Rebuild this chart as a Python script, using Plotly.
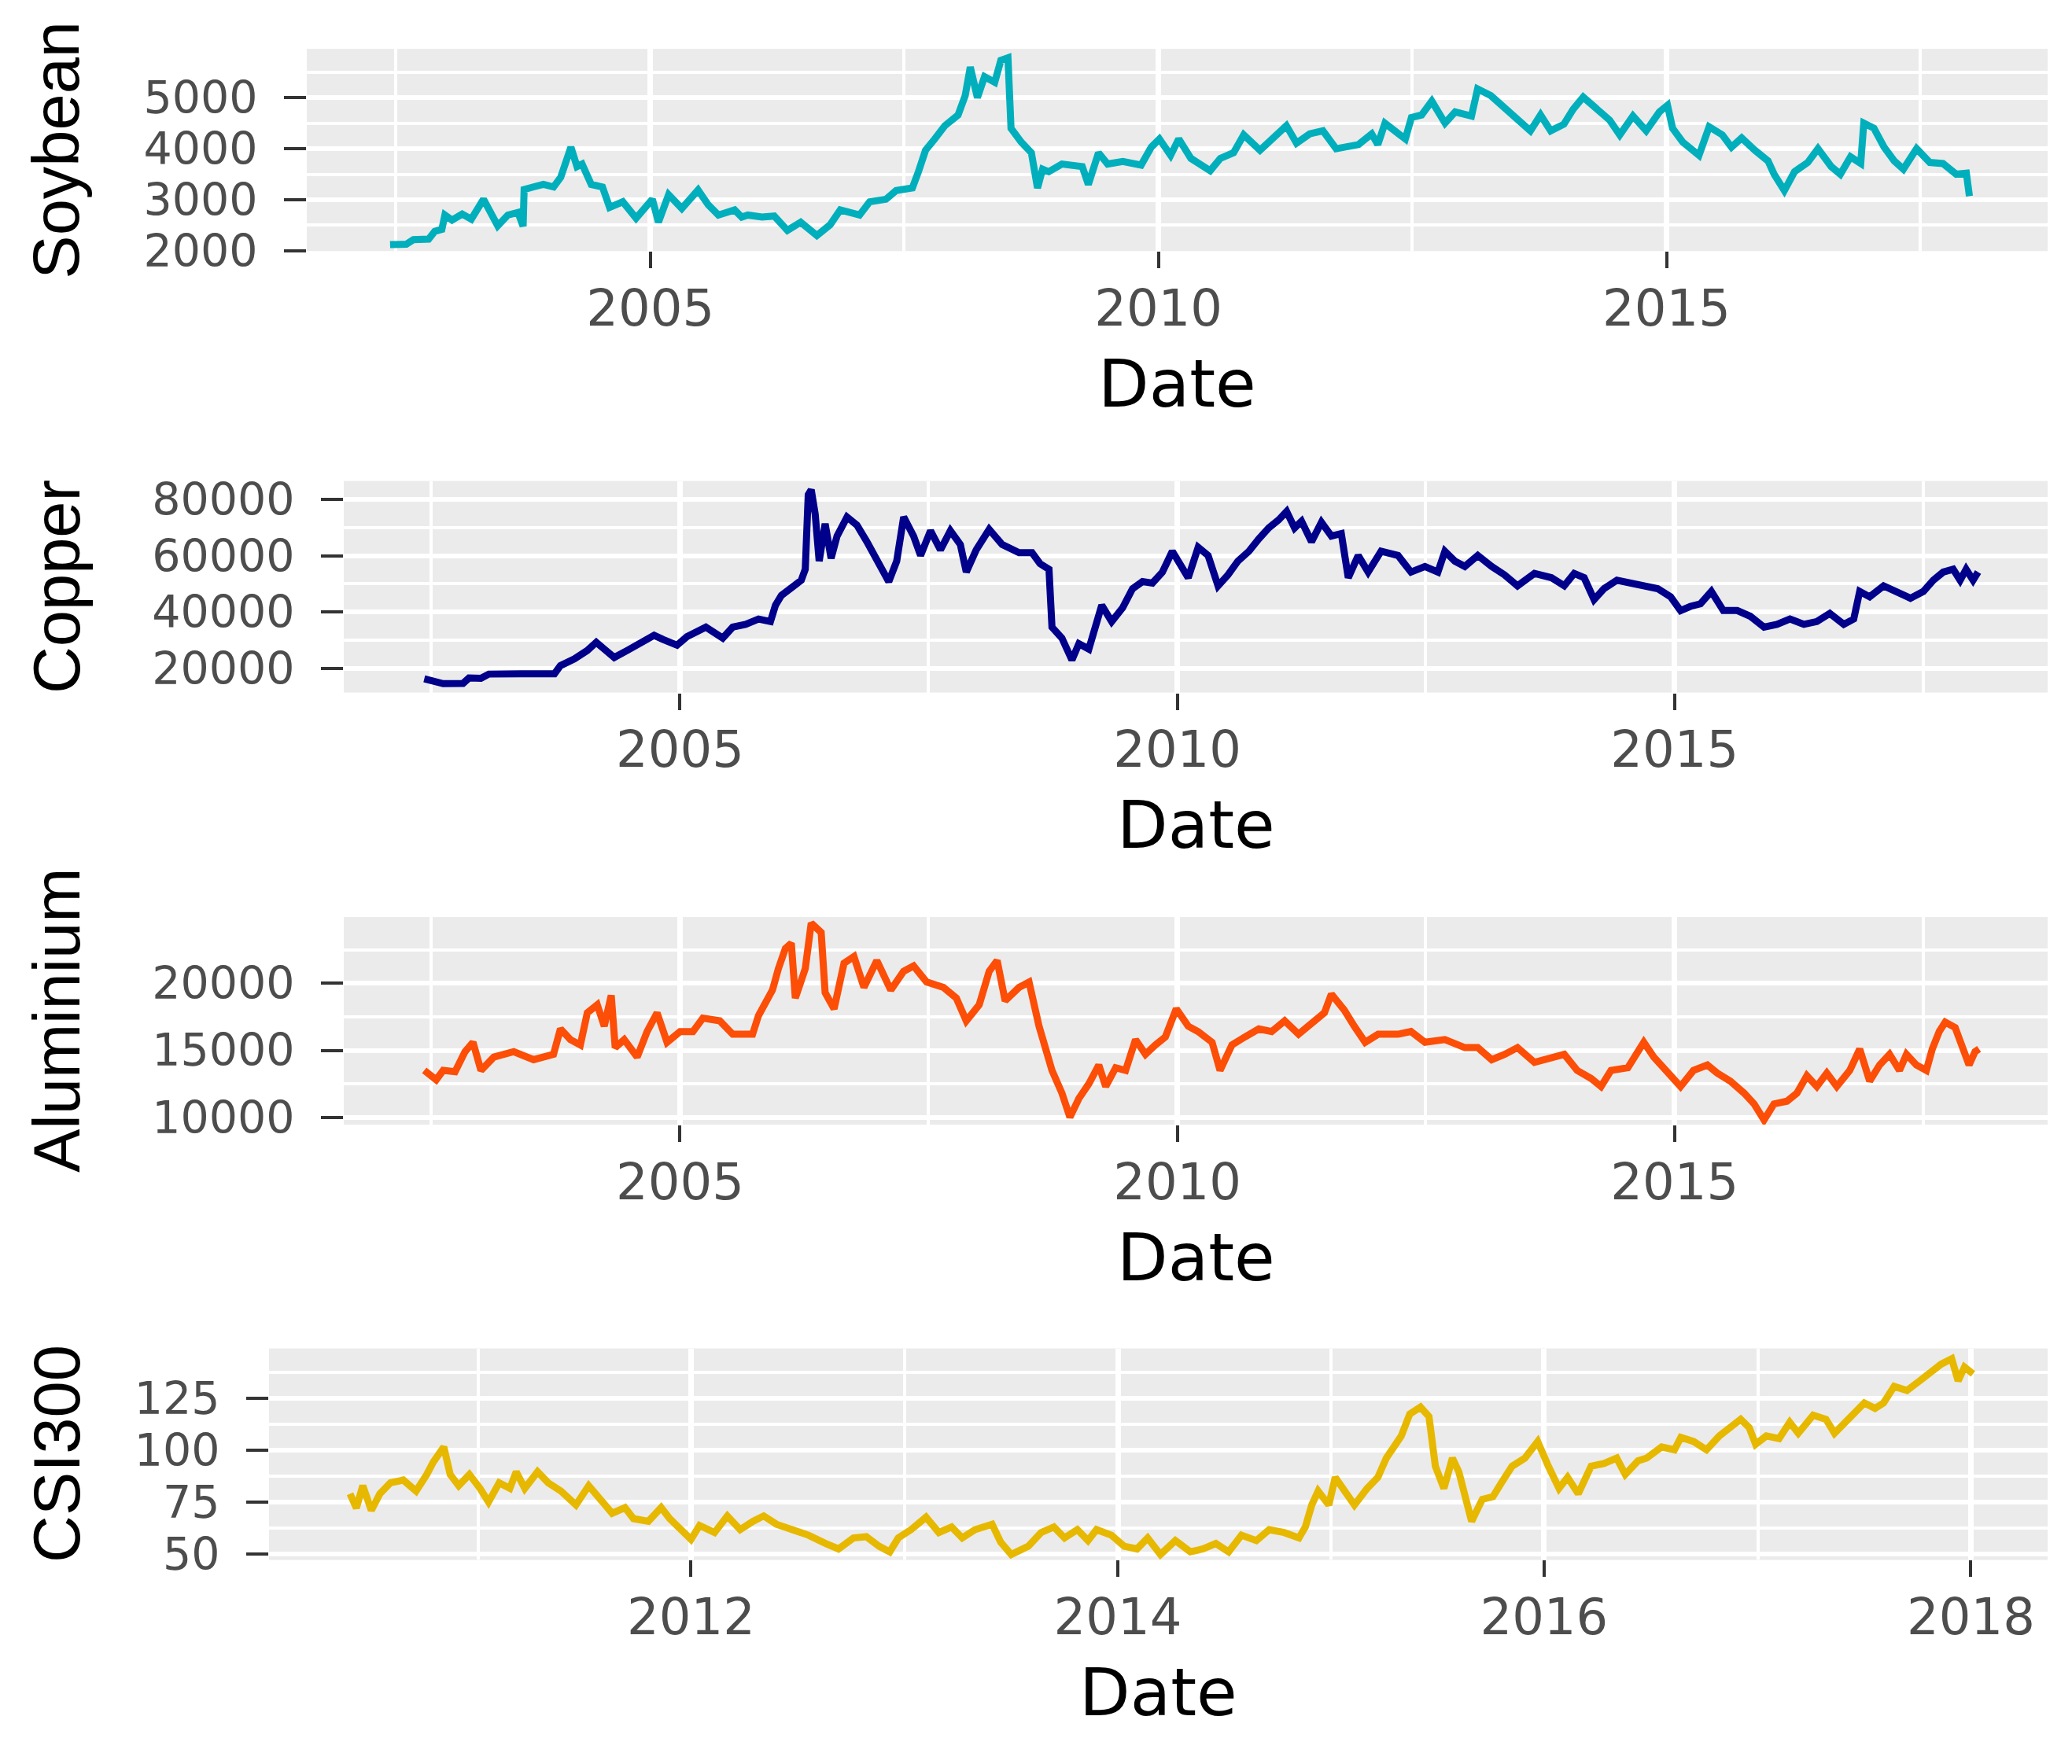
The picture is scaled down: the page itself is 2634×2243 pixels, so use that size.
from datetime import datetime, timedelta

import plotly.graph_objs as go

# decimal year / price pairs
soy_t = [
    2002.44, 2002.60, 2002.67, 2002.82, 2002.88, 2002.95, 2002.98, 2003.05, 2003.15, 2003.24,
    2003.36, 2003.50, 2003.60, 2003.70, 2003.75, 2003.76, 2003.85, 2003.95, 2004.05, 2004.12,
    2004.22, 2004.28, 2004.33, 2004.42, 2004.53, 2004.60, 2004.73, 2004.86, 2005.02, 2005.08,
    2005.18, 2005.31, 2005.47, 2005.57, 2005.67, 2005.83, 2005.90, 2005.96, 2006.10, 2006.22,
    2006.35, 2006.48, 2006.64, 2006.77, 2006.87, 2007.06, 2007.16, 2007.32, 2007.42, 2007.58,
    2007.64, 2007.71, 2007.80, 2007.90, 2008.03, 2008.10, 2008.15, 2008.22, 2008.29, 2008.39,
    2008.45, 2008.52, 2008.55, 2008.65, 2008.75, 2008.81, 2008.86, 2008.92, 2009.05, 2009.25,
    2009.31, 2009.41, 2009.50, 2009.65, 2009.83, 2009.93, 2010.01, 2010.12, 2010.20, 2010.32,
    2010.51, 2010.61, 2010.74, 2010.84, 2011.00, 2011.19, 2011.26, 2011.36, 2011.49, 2011.62,
    2011.75, 2011.97, 2012.10, 2012.16, 2012.23, 2012.43, 2012.49, 2012.59, 2012.69, 2012.82,
    2012.92, 2013.08, 2013.14, 2013.27, 2013.40, 2013.53, 2013.66, 2013.76, 2013.86, 2013.99,
    2014.08, 2014.18, 2014.31, 2014.44, 2014.54, 2014.67, 2014.80, 2014.93, 2015.01, 2015.06,
    2015.16, 2015.32, 2015.42, 2015.55, 2015.64, 2015.74, 2015.87, 2016.00, 2016.06, 2016.16,
    2016.26, 2016.39, 2016.49, 2016.62, 2016.71, 2016.81, 2016.91, 2016.94, 2017.04, 2017.14,
    2017.24, 2017.33, 2017.46, 2017.59, 2017.72, 2017.85, 2017.95, 2017.98,
]
soy_v = [
    2120, 2130, 2220, 2230, 2380, 2420, 2700, 2600, 2720, 2620,
    3010, 2490, 2700, 2750, 2480, 3200, 3250, 3300, 3250, 3440,
    4030, 3650, 3700, 3300, 3250, 2850, 2960, 2640, 3010, 2560,
    3100, 2830, 3190, 2900, 2700, 2800, 2660, 2700, 2660, 2680,
    2400, 2560, 2300, 2510, 2800, 2700, 2960, 3010, 3180, 3230,
    3550, 3970, 4190, 4450, 4660, 5040, 5600, 5000, 5410, 5300,
    5730, 5780, 4400, 4130, 3920, 3230, 3600, 3550, 3700, 3650,
    3300, 3920, 3700, 3750, 3680, 4030, 4190, 3870, 4190, 3810,
    3570, 3810, 3920, 4270, 3970, 4350, 4450, 4110, 4290, 4350,
    4000, 4080, 4290, 4080, 4500, 4190, 4610, 4660, 4930, 4500,
    4720, 4640, 5170, 5040, 4820, 4610, 4350, 4660, 4350, 4480,
    4770, 5010, 4770, 4560, 4270, 4640, 4350, 4720, 4850, 4400,
    4130, 3870, 4430, 4270, 4030, 4210, 3970, 3760, 3500, 3180,
    3550, 3730, 4000, 3650, 3500, 3840, 3710, 4500, 4400, 4030,
    3760, 3600, 4000, 3730, 3710, 3500, 3520, 3070,
]

copper_t = [
    2002.43, 2002.55, 2002.62, 2002.82, 2002.88, 2003.00, 2003.08, 2003.40, 2003.74, 2003.80,
    2003.94, 2004.07, 2004.16, 2004.24, 2004.34, 2004.47, 2004.60, 2004.74, 2004.83, 2004.97,
    2005.07, 2005.26, 2005.43, 2005.53, 2005.66, 2005.79, 2005.91, 2005.96, 2006.02, 2006.12,
    2006.22, 2006.26, 2006.29, 2006.32, 2006.36, 2006.40, 2006.46, 2006.52, 2006.58, 2006.68,
    2006.78, 2006.88, 2006.98, 2007.10, 2007.18, 2007.25, 2007.35, 2007.42, 2007.52, 2007.62,
    2007.72, 2007.82, 2007.88, 2007.98, 2008.11, 2008.24, 2008.41, 2008.54, 2008.62, 2008.71,
    2008.74, 2008.84, 2008.94, 2009.01, 2009.11, 2009.18, 2009.24, 2009.34, 2009.45, 2009.55,
    2009.65, 2009.75, 2009.85, 2009.95, 2010.05, 2010.11, 2010.21, 2010.31, 2010.41, 2010.51,
    2010.61, 2010.72, 2010.82, 2010.92, 2011.02, 2011.10, 2011.18, 2011.25, 2011.35, 2011.45,
    2011.55, 2011.65, 2011.72, 2011.82, 2011.92, 2012.05, 2012.22, 2012.35, 2012.49, 2012.62,
    2012.69, 2012.79, 2012.89, 2013.02, 2013.16, 2013.29, 2013.42, 2013.59, 2013.76, 2013.89,
    2013.99, 2014.09, 2014.19, 2014.29, 2014.42, 2014.56, 2014.69, 2014.83, 2014.96, 2015.06,
    2015.16, 2015.26, 2015.37, 2015.49, 2015.63, 2015.76, 2015.90, 2016.03, 2016.16, 2016.30,
    2016.43, 2016.56, 2016.70, 2016.80, 2016.86, 2016.96, 2017.10, 2017.23, 2017.37, 2017.50,
    2017.60, 2017.70, 2017.80, 2017.87, 2017.93, 2018.00, 2018.05,
]
copper_v = [
    16200, 15200, 14500, 14600, 16500, 16400, 17900, 18000, 18000, 20900,
    23300, 26300, 29200, 26800, 23800, 26300, 28700, 31700, 30200, 28200,
    31200, 34600, 30700, 34600, 35600, 37500, 36600, 42400, 45900, 48300,
    51300, 55200, 81700, 83500, 74800, 58100, 71400, 59100, 67000, 73800,
    70900, 65000, 58100, 50800, 58100, 73800, 67000, 60100, 68900, 62100,
    68900, 64000, 54200, 62100, 69400, 64000, 61100, 61100, 57200, 55200,
    34600, 30700, 22900, 28700, 26800, 34600, 42400, 36600, 41500, 48300,
    50800, 50300, 54200, 61600, 55200, 52200, 63000, 60100, 49300, 53200,
    58100, 61600, 66000, 69900, 72800, 75800, 69900, 72300, 65000, 71900,
    67000, 67900, 52200, 60100, 54200, 61600, 60100, 54200, 56200, 54200,
    61600, 58100, 56200, 60100, 56200, 53200, 49300, 53700, 52200, 49300,
    53700, 52200, 44400, 48300, 51300, 50300, 48800, 48300, 45400, 40500,
    42000, 42900, 47300, 40500, 40500, 38500, 34600, 35600, 37500, 35600,
    36600, 39500, 35600, 37500, 47300, 45400, 49300, 47300, 44900, 47300,
    51300, 54200, 55200, 51300, 55200, 51300, 54200,
]

alu_t = [
    2002.43, 2002.55, 2002.62, 2002.74, 2002.84, 2002.92, 2003.00, 2003.13, 2003.33, 2003.53,
    2003.73, 2003.80, 2003.90, 2004.00, 2004.07, 2004.17, 2004.24, 2004.31, 2004.35, 2004.44,
    2004.57, 2004.67, 2004.77, 2004.87, 2005.00, 2005.13, 2005.23, 2005.40, 2005.53, 2005.73,
    2005.79, 2005.86, 2005.93, 2005.99, 2006.06, 2006.12, 2006.16, 2006.26, 2006.32, 2006.42,
    2006.46, 2006.55, 2006.65, 2006.75, 2006.85, 2006.98, 2007.12, 2007.25, 2007.35, 2007.48,
    2007.65, 2007.78, 2007.88, 2008.01, 2008.11, 2008.19, 2008.27, 2008.41, 2008.51, 2008.61,
    2008.68, 2008.74, 2008.84, 2008.92, 2009.01, 2009.11, 2009.21, 2009.28, 2009.38, 2009.48,
    2009.58, 2009.68, 2009.78, 2009.88, 2009.99, 2010.11, 2010.21, 2010.35, 2010.43, 2010.55,
    2010.68, 2010.82, 2010.95, 2011.08, 2011.22, 2011.35, 2011.48, 2011.55, 2011.68, 2011.78,
    2011.89, 2012.02, 2012.22, 2012.35, 2012.49, 2012.69, 2012.89, 2013.02, 2013.16, 2013.29,
    2013.42, 2013.59, 2013.76, 2013.89, 2014.02, 2014.16, 2014.26, 2014.36, 2014.53, 2014.63,
    2014.69, 2014.79, 2014.89, 2014.99, 2015.06, 2015.19, 2015.33, 2015.43, 2015.56, 2015.70,
    2015.80, 2015.90, 2016.00, 2016.13, 2016.23, 2016.33, 2016.43, 2016.53, 2016.63, 2016.76,
    2016.86, 2016.96, 2017.06, 2017.16, 2017.26, 2017.33, 2017.43, 2017.53, 2017.59, 2017.66,
    2017.72, 2017.82, 2017.89, 2017.96, 2018.02, 2018.06,
]
alu_v = [
    13500, 12800, 13500, 13400, 14900, 15600, 13500, 14500, 14900, 14300,
    14700, 16600, 15800, 15400, 17800, 18400, 16800, 19100, 15200, 15800,
    14500, 16400, 17800, 15600, 16400, 16400, 17400, 17200, 16200, 16200,
    17600, 18700, 19500, 21100, 22600, 23000, 18900, 21100, 24500, 23800,
    19300, 18100, 21500, 22000, 19700, 21700, 19500, 20900, 21300, 20100,
    19700, 18900, 17200, 18400, 20900, 21700, 18700, 19700, 20100, 16800,
    15100, 13500, 11800, 10000, 11400, 12500, 13900, 12300, 13700, 13500,
    15800, 14700, 15400, 16000, 18100, 16800, 16400, 15600, 13500, 15400,
    16000, 16600, 16400, 17200, 16200, 17000, 17800, 19200, 18000, 16800,
    15600, 16200, 16200, 16400, 15600, 15800, 15200, 15200, 14300, 14700,
    15200, 14100, 14500, 14700, 13500, 12900, 12300, 13500, 13700, 14900,
    15600, 14500, 13700, 12900, 12300, 13500, 13900, 13300, 12700, 11800,
    11000, 9800, 11000, 11200, 11800, 13100, 12300, 13300, 12300, 13500,
    15100, 12700, 13900, 14700, 13500, 14700, 13900, 13500, 15100, 16400,
    17100, 16700, 15100, 13900, 14900, 15100,
]

csi_t = [
    2010.40, 2010.43, 2010.46, 2010.50, 2010.54, 2010.59, 2010.65, 2010.71, 2010.76, 2010.79,
    2010.84, 2010.87, 2010.91, 2010.96, 2011.01, 2011.05, 2011.10, 2011.15, 2011.18, 2011.22,
    2011.28, 2011.33, 2011.39, 2011.46, 2011.52, 2011.58, 2011.63, 2011.69, 2011.73, 2011.80,
    2011.86, 2011.90, 2011.95, 2012.00, 2012.04, 2012.11, 2012.17, 2012.23, 2012.29, 2012.34,
    2012.40, 2012.48, 2012.55, 2012.63, 2012.69, 2012.76, 2012.82, 2012.88, 2012.93, 2012.97,
    2013.03, 2013.10, 2013.16, 2013.22, 2013.27, 2013.33, 2013.41, 2013.45, 2013.50, 2013.58,
    2013.64, 2013.70, 2013.75, 2013.81, 2013.86, 2013.90, 2013.97, 2014.03, 2014.09, 2014.14,
    2014.20, 2014.27, 2014.34, 2014.40, 2014.46, 2014.52, 2014.58, 2014.65, 2014.71, 2014.78,
    2014.85, 2014.88, 2014.91, 2014.94, 2014.99, 2015.02, 2015.06, 2015.11, 2015.17, 2015.22,
    2015.26, 2015.33, 2015.37, 2015.42, 2015.46, 2015.49, 2015.53, 2015.57, 2015.60, 2015.66,
    2015.71, 2015.76, 2015.80, 2015.85, 2015.91, 2015.97, 2016.02, 2016.07, 2016.11, 2016.16,
    2016.22, 2016.28, 2016.34, 2016.38, 2016.44, 2016.48, 2016.55, 2016.61, 2016.64, 2016.70,
    2016.76, 2016.82, 2016.87, 2016.92, 2016.96, 2016.99, 2017.04, 2017.10, 2017.15, 2017.19,
    2017.26, 2017.32, 2017.36, 2017.41, 2017.46, 2017.50, 2017.55, 2017.59, 2017.64, 2017.70,
    2017.76, 2017.81, 2017.86, 2017.91, 2017.94, 2017.97, 2018.01,
]
csi_v = [
    78.9, 72.0, 82.8, 70.9, 78.9, 84.2, 85.5, 80.2, 88.2, 94.1,
    101.5, 88.2, 82.8, 88.2, 81.5, 74.9, 84.2, 81.5, 89.5, 81.5,
    89.5, 84.2, 80.2, 73.5, 82.8, 74.9, 69.5, 72.2, 66.9, 65.6,
    72.2, 66.9, 61.6, 56.9, 63.6, 60.2, 68.2, 61.6, 65.6, 68.2,
    64.2, 61.6, 58.9, 54.9, 52.3, 57.6, 58.2, 53.6, 50.9, 57.6,
    61.6, 67.6, 60.2, 62.9, 57.6, 61.6, 64.2, 55.6, 49.6, 53.6,
    60.2, 62.9, 57.6, 61.6, 56.3, 61.6, 58.9, 53.6, 52.3, 57.6,
    49.6, 56.3, 50.9, 52.3, 54.9, 50.9, 58.9, 56.3, 61.6, 60.2,
    57.6, 62.9, 73.5, 80.2, 73.5, 86.8, 81.5, 73.5, 81.5, 86.8,
    96.1, 106.8, 117.4, 120.7, 116.1, 92.2, 81.5, 96.1, 89.5, 65.6,
    76.2, 77.5, 84.2, 92.2, 96.1, 104.1, 92.2, 81.5, 86.8, 78.9,
    92.2, 93.5, 96.1, 88.2, 94.8, 96.1, 101.5, 100.1, 106.1, 104.1,
    100.1, 106.8, 110.8, 114.8, 110.8, 102.8, 106.8, 105.5, 113.4, 108.1,
    116.8, 114.8, 108.1, 113.4, 118.8, 122.7, 120.1, 122.7, 130.7, 128.7,
    133.4, 137.4, 141.4, 144.0, 133.4, 140.0, 136.7,
]

names = ["Soybean", "Copper", "Aluminium", "CSI300"]
colors = ["#00AFBB", "#00008B", "#FC4E07", "#E7B800"]

W, H = 2634, 2243
X_TICK_FONT = dict(family="DejaVu Sans", size=64, color="#4D4D4D")
# y labels a bit smaller so stacked labels do not collide
Y_TICK_FONT = dict(family="DejaVu Sans", size=57, color="#4D4D4D")


def to_date(t):
    # decimal year -> datetime
    y = int(t)
    start = datetime(y, 1, 1)
    ndays = (datetime(y + 1, 1, 1) - start).days
    return start + timedelta(days=(t - y) * ndays)


def px_x(p):
    return p / W


def px_y(p):
    return 1 - p / H


# panel boxes in pixels: left, right, top, bottom
panels = [
    dict(box=(382, 2595, 46, 308), xr=(2001.62, 2018.75), yr=(1995, 5955),
         dtick=1000, xdt="M60", xt0="2005-01-01"),
    dict(box=(429, 2595, 606, 880), xr=(2001.62, 2018.75), yr=(11350, 86600),
         dtick=20000, xdt="M60", xt0="2005-01-01"),
    dict(box=(429, 2595, 1171, 1440), xr=(2001.62, 2018.75), yr=(9450, 24950),
         dtick=5000, xdt="M60", xt0="2005-01-01"),
    dict(box=(334, 2595, 1730, 2004), xr=(2010.02, 2018.36), yr=(47, 149),
         dtick=25, xdt="M24", xt0="2012-01-01"),
]
series = [(soy_t, soy_v), (copper_t, copper_v), (alu_t, alu_v), (csi_t, csi_v)]


def draw_picture():
    fig = go.Figure()
    layout = dict(
        width=W, height=H,
        margin=dict(l=0, r=0, t=0, b=0),
        paper_bgcolor="white",
        plot_bgcolor="#EBEBEB",
        showlegend=False,
        annotations=[],
    )
    for i, (p, (t, v)) in enumerate(zip(panels, series)):
        k = "" if i == 0 else str(i + 1)
        fig.add_trace(go.Scatter(
            x=[to_date(a) for a in t], y=v, mode="lines",
            line=dict(color=colors[i], width=9),
            xaxis="x" + k, yaxis="y" + k, name=names[i]))
        l, r, top, bot = p["box"]
        # months for minor grid = half of major step
        minor_dt = "M" + str(int(p["xdt"][1:]) // 2)
        layout["xaxis" + k] = dict(
            type="date", domain=[px_x(l), px_x(r)], anchor="y" + k,
            range=[to_date(p["xr"][0]), to_date(p["xr"][1])],
            dtick=p["xdt"], tick0=p["xt0"], tickformat="%Y",
            ticks="outside", ticklen=21, tickwidth=4, tickcolor="#333333",
            ticklabelstandoff=-4,
            showgrid=True, gridcolor="white", gridwidth=7,
            minor=dict(dtick=minor_dt, tick0=p["xt0"], showgrid=True,
                       gridcolor="white", gridwidth=4, ticks=""),
            zeroline=False, showline=False, tickfont=X_TICK_FONT)
        layout["yaxis" + k] = dict(
            domain=[px_y(bot), px_y(top)], anchor="x" + k,
            range=list(p["yr"]), dtick=p["dtick"], tick0=0, tickformat="d",
            ticks="outside", ticklen=28, tickwidth=4, tickcolor="#333333",
            ticklabelstandoff=22,
            showgrid=True, gridcolor="white", gridwidth=6,
            minor=dict(dtick=p["dtick"] / 2, showgrid=True,
                       gridcolor="white", gridwidth=3.5, ticks=""),
            zeroline=False, showline=False, tickfont=Y_TICK_FONT)
        # axis titles
        layout["annotations"].append(dict(
            text="Date", xref="paper", yref="paper",
            x=px_x((l + r) / 2), y=px_y(bot + 172),
            xanchor="center", yanchor="middle", showarrow=False,
            font=dict(family="DejaVu Sans", size=84, color="black")))
        layout["annotations"].append(dict(
            text=names[i], xref="paper", yref="paper", textangle=-90,
            x=px_x(64), y=px_y((top + bot) / 2),
            xanchor="center", yanchor="middle", showarrow=False,
            font=dict(family="Liberation Sans", size=83, color="black")))
    fig.update_layout(**layout)
    fig.write_html("out.html")


if __name__ == "__main__":
    draw_picture()
